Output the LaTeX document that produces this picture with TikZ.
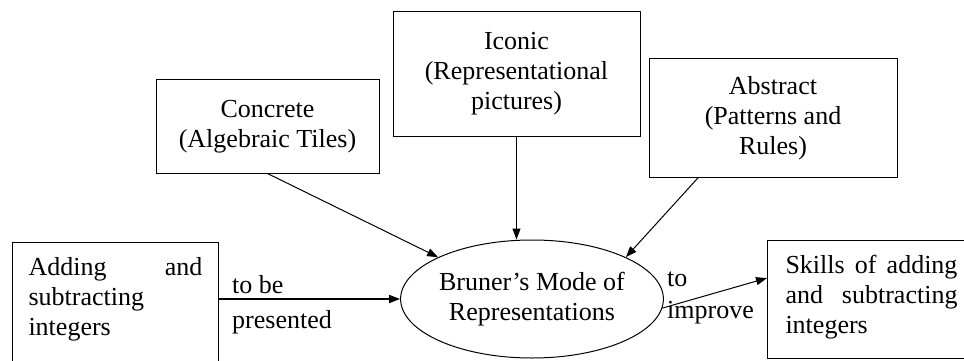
\documentclass[tikz,border=0pt]{standalone}
\usepackage{fontspec}
\setmainfont{Liberation Serif}
\usetikzlibrary{shapes.geometric,arrows.meta,positioning,calc}
\hyphenpenalty=10000

\begin{document}
\begin{tikzpicture}[x=1pt, y=-1pt,
  box/.style  = {rectangle, draw, line width=1pt, align=center,
                 inner sep=0pt, font=\fontsize{26}{30}\selectfont},
  side/.style = {box, align=justify, inner xsep=16pt, inner ysep=0pt,
                 anchor=north west, text height=33pt},
  mode/.style = {ellipse, draw, line width=1pt, inner sep=0pt,
                 minimum width=240pt, minimum height=118pt,
                 align=center, font=\fontsize{26}{30}\selectfont},
  lbl/.style  = {inner sep=0pt, align=left, anchor=north west,
                 font=\fontsize{26}{32}\selectfont},
  arr/.style  = {-{Triangle[length=11pt,width=8pt]}, line width=1pt}
]
\useasboundingbox (0,0) rectangle (964,361);

% --- Bruner's modes ---
\node[box, minimum width=223pt, minimum height=93pt]  (concrete) at (267.5,126.5)
     {Concrete\\(Algebraic Tiles)};
\node[box, minimum width=247pt, minimum height=124pt] (iconic)   at (516.5,74)
     {Iconic\\(Representational\\pictures)};
\node[box, minimum width=248pt, minimum height=118pt] (abstract) at (773,118)
     {Abstract\\(Patterns and\\Rules)};

% --- Centre ---
\node[mode] (bruner) at (532,299) {Bruner’s Mode of\\Representations};

% --- Input and outcome ---
\node[side, text width=174pt, text depth=110pt] (adding) at (12,242)
     {Adding and subtracting integers};
\node[side, text width=172pt, inner xsep=18pt, text depth=85pt] (skills) at (767,240)
     {Skills of adding and subtracting integers};

% --- Labels ---
\node[lbl, font=\fontsize{26}{35}\selectfont] (present) at (232,275) {to be\\presented};
\node[lbl] (improve) at (667,272) {to\\improve};

% --- Arrows ---
\draw[arr] (concrete.south) -- (bruner.156);
\draw[arr] (iconic.south) -- (iconic.south |- bruner.north);
\draw[arr] ($(abstract.south west)!0.2!(abstract.south east)$) -- (bruner.24);
\draw[arr, line width=1.8pt] (adding.east |- bruner.west) -- (bruner.west);
\draw[arr] (bruner.-4) -- ($(skills.north west)!0.32!(skills.south west)$);

\end{tikzpicture}
\end{document}
